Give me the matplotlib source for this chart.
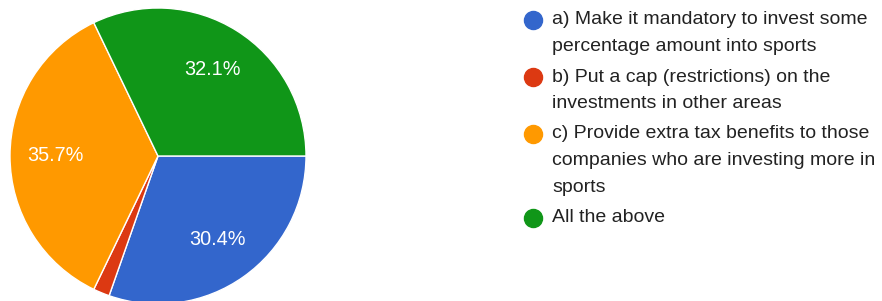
import matplotlib.pyplot as plt

labels = ["a) Make it mandatory to invest some\npercentage amount into sports",
          "b) Put a cap (restrictions) on the\ninvestments in other areas",
          "c) Provide extra tax benefits to those\ncompanies who are investing more in\nsports",
          "All the above"]
counts = [17, 1, 20, 18]
colors = ["#3366cc", "#dc3912", "#ff9900", "#109618"]

plt.rcParams['font.family'] = ['Liberation Sans', 'DejaVu Sans']
fig = plt.figure(figsize=(8.82, 3.01), dpi=100)
W, H = 882, 301

# pie placed in pixel coords
ax = fig.add_axes([10 / W, -3 / H, 296 / W, 296 / H])
def fmt(p):
    return "%.1f%%" % p if p > 5 else ""
wedges, texts, autotexts = ax.pie(counts, colors=colors, startangle=0, counterclock=False,
                                  autopct=fmt, pctdistance=0.69,
                                  wedgeprops=dict(edgecolor="white", linewidth=1),
                                  textprops=dict(color="white", fontsize=14.3))
ax.set_xlim(-1, 1)
ax.set_ylim(-1, 1)
ax.set_aspect("equal")
ax.axis("off")

# legend drawn by hand
y = 20
for lab, c in zip(labels, colors):
    fig.lines.append(plt.Line2D([533 / W], [1 - y / H], marker="o", markersize=13,
                                color=c, transform=fig.transFigure))
    for i, line in enumerate(lab.split("\n")):
        fig.text(552 / W, 1 - (y + i * 26.5) / H, line, fontsize=14.0, color="#222222",
                 va="center", ha="left")
    y += 26.5 * len(lab.split("\n")) + 4

fig.savefig("out.png", dpi=100)
